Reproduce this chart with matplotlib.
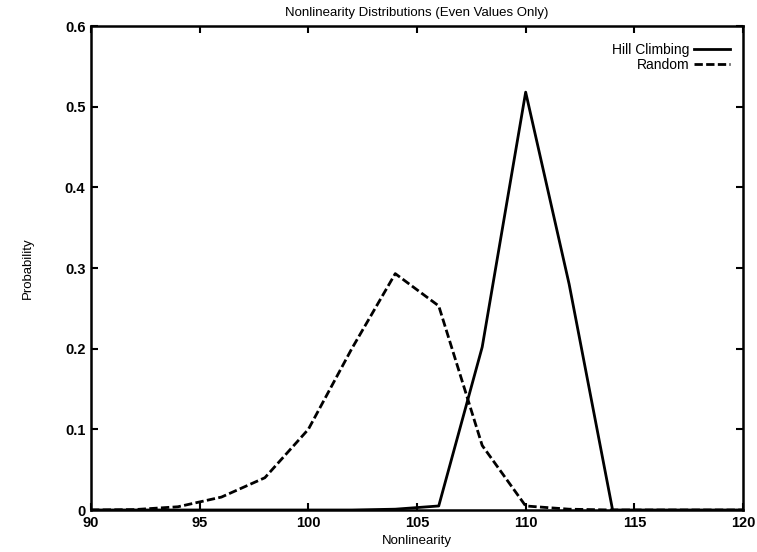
import matplotlib
matplotlib.use("Agg")
from matplotlib import pyplot as plt

# data
nonlinearity = [90, 92, 94, 96, 98, 100, 102, 104, 106, 108, 110, 112, 114, 116, 118, 120]
hill_climbing = [0, 0, 0, 0, 0, 0, 0, 0.001, 0.005, 0.202, 0.518, 0.28, 0, 0, 0, 0]
random_search = [0, 0.0005, 0.004, 0.016, 0.04, 0.1, 0.2, 0.293, 0.253, 0.08, 0.005, 0.001, 0, 0, 0, 0]

plt.rcParams['font.family'] = ['Liberation Sans', 'DejaVu Sans']

fig = plt.figure(figsize=(7.57, 5.52), dpi=100)
ax = fig.add_axes([91 / 757, 1 - 510 / 552, (743 - 91) / 757, (510 - 26) / 552])

ax.plot(nonlinearity, hill_climbing, c='k', lw=2.0, label='Hill Climbing')
ax.plot(nonlinearity, random_search, c='k', lw=2.0, ls=(0, (3, 1.2)), label='Random')

ax.set_xlim(90, 120)
ax.set_ylim(0, 0.6)
ax.set_xticks([90, 95, 100, 105, 110, 115, 120])
ax.set_yticks([0, 0.1, 0.2, 0.3, 0.4, 0.5, 0.6])
ax.set_yticklabels(['0', '0.1', '0.2', '0.3', '0.4', '0.5', '0.6'])
ax.tick_params(direction='in', top=True, right=True, length=5, width=1.5,
               labelsize=10.5, pad=4)
for lbl in ax.get_xticklabels() + ax.get_yticklabels():
    lbl.set_fontweight('bold')
for sp in ax.spines.values():
    sp.set_linewidth(1.8)

ax.set_title('Nonlinearity Distributions (Even Values Only)', fontsize=9.5, pad=7)
ax.set_xlabel('Nonlinearity', fontsize=9.5, labelpad=4)
ax.set_ylabel('Probability', fontsize=9.5, labelpad=22)

ax.legend(loc='upper right', bbox_to_anchor=(0.988, 0.977), frameon=False,
          markerfirst=False, fontsize=10, handlelength=2.6, handletextpad=0.3,
          labelspacing=0.08, borderaxespad=0.0)
for t in ax.get_legend().get_texts():
    t.set_ha('right')

fig.savefig('out.png', dpi=100)
